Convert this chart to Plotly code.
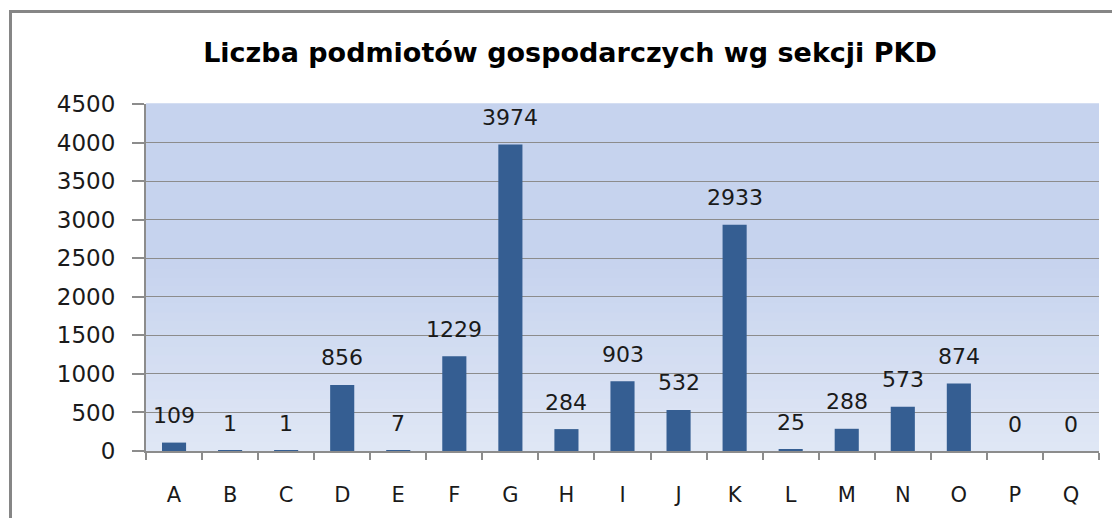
import plotly.graph_objects as go

categories = ["A", "B", "C", "D", "E", "F", "G", "H", "I", "J", "K", "L", "M", "N", "O", "P", "Q"]
values = [109, 1, 1, 856, 7, 1229, 3974, 284, 903, 532, 2933, 25, 288, 573, 874, 0, 0]
y_ticks = [0, 500, 1000, 1500, 2000, 2500, 3000, 3500, 4000, 4500]
title_text = "Liczba podmiotów gospodarczych wg sekcji PKD"

# page body has an 8px margin, so the figure is sized/positioned accordingly
W, H = 1112, 510
L, R, T, B = 138, 21, 96, 67
pw, ph = W - L - R, H - T - B

fig = go.Figure()
fig.add_trace(go.Bar(
    x=categories, y=values,
    marker=dict(color="#355E92", line=dict(width=0)),
    width=0.43, hoverinfo="x+y",
))

# data labels
for c, v in zip(categories, values):
    fig.add_annotation(x=c, y=v, text=str(v), showarrow=False,
                       yanchor="middle", yshift=27,
                       font=dict(family="DejaVu Sans", size=22, color="#1a1a1a"))

# gradient background in plot area
shapes = []
n = 40
top = (198, 211, 238)
bot = (224, 231, 245)
for i in range(n):
    y0 = i / n
    y1 = (i + 1) / n
    t = min(1.0, (y0 + y1) / 2 / 0.55)
    col = tuple(round(bot[k] + (top[k] - bot[k]) * t) for k in range(3))
    shapes.append(dict(type="rect", xref="paper", yref="paper", x0=0, x1=1, y0=y0, y1=y1 + 0.002,
                       fillcolor="rgb(%d,%d,%d)" % col, line=dict(width=0), layer="below"))

# outer chart frame (extends past the right and bottom edges)
fx0 = (2.5 - L) / pw
fy1 = (H - B - 3.5) / ph
shapes.append(dict(type="rect", xref="paper", yref="paper", x0=fx0, x1=(W + 20 - L) / pw,
                   y0=(H - B - (H + 20)) / ph, y1=fy1,
                   line=dict(color="#868686", width=3), fillcolor="rgba(0,0,0,0)", layer="above"))

fig.update_layout(
    width=W, height=H,
    margin=dict(l=L, r=R, t=T, b=B),
    paper_bgcolor="white", plot_bgcolor="#C5D3EE",
    showlegend=False,
    shapes=shapes,
    title=dict(text=title_text, x=562 / W, xanchor="center", y=1 - 45 / H, yanchor="middle",
               font=dict(family="DejaVu Sans", size=27, color="#000000", weight="bold")),
    font=dict(family="DejaVu Sans", size=22, color="#1a1a1a"),
)
fig.update_yaxes(range=[0, 4500], tickvals=y_ticks, showgrid=True, gridcolor="#8C8C8C", gridwidth=1,
                 showline=True, linecolor="#8C8C8C", linewidth=2, ticks="outside", ticklen=12,
                 tickcolor="#8C8C8C", tickwidth=2, ticklabelstandoff=12, zeroline=False,
                 tickfont=dict(family="DejaVu Sans", size=23, color="#1a1a1a"))
fig.update_xaxes(showline=True, linecolor="#8C8C8C", linewidth=2, ticks="outside", ticklen=7,
                 tickcolor="#8C8C8C", tickwidth=2, tickson="boundaries", ticklabelstandoff=24,
                 tickfont=dict(family="DejaVu Sans", size=21, color="#1a1a1a"))

fig.write_html("out.html")
